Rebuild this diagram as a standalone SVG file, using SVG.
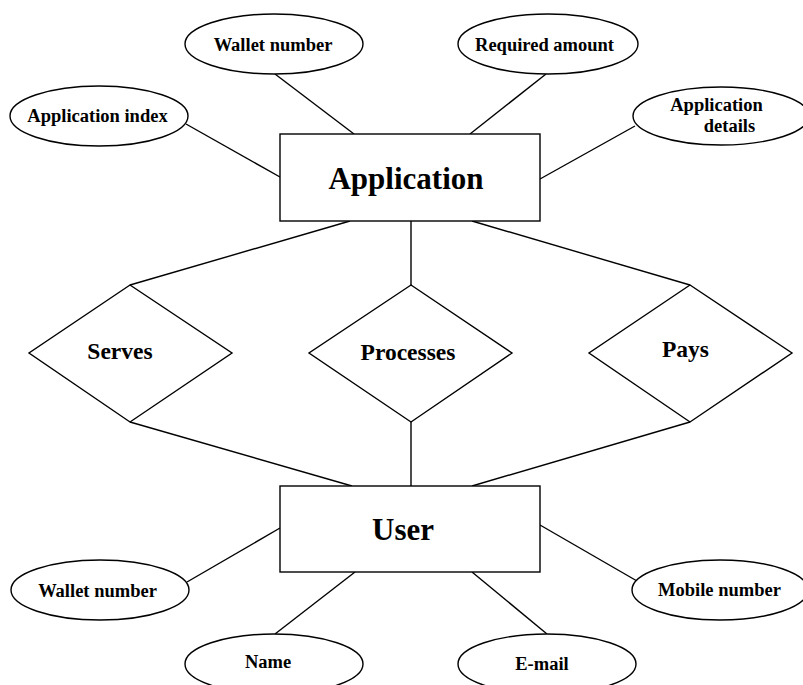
<svg xmlns="http://www.w3.org/2000/svg" width="803" height="685" viewBox="0 0 803 685">
<style>
.shape{fill:#fff;stroke:#000;stroke-width:1.4}
.conn line{stroke:#000;stroke-width:1.4}
text{font-family:"Liberation Serif","Times New Roman",serif;font-weight:bold;fill:#000;text-anchor:middle}
.attr{font-size:18.5px}
.rel{font-size:23.5px}
.ent{font-size:31px}
</style>
<rect width="803" height="685" fill="#fff"/>
<g class="conn" id="connectors">
<line x1="275" y1="74" x2="354" y2="134"/>
<line x1="186" y1="124" x2="280" y2="177"/>
<line x1="546" y1="74" x2="470" y2="134"/>
<line x1="635" y1="126" x2="540" y2="179"/>
<line x1="350" y1="221" x2="130" y2="285"/>
<line x1="411" y1="221" x2="411" y2="285"/>
<line x1="472" y1="221" x2="690" y2="285"/>
<line x1="130" y1="422" x2="352" y2="486"/>
<line x1="411" y1="422" x2="411" y2="486"/>
<line x1="690" y1="422" x2="472" y2="486"/>
<line x1="187" y1="582" x2="280" y2="528"/>
<line x1="275" y1="634" x2="355" y2="572"/>
<line x1="547" y1="634" x2="472" y2="572"/>
<line x1="540" y1="525" x2="637" y2="581"/>
</g>
<g id="application">
<rect class="shape" x="280" y="134" width="260" height="87"/>
<text class="ent" x="406" y="189">Application</text>
</g>
<g id="user">
<rect class="shape" x="280" y="486" width="260" height="86"/>
<text class="ent" x="403" y="540">User</text>
</g>
<g id="attr-wallet-top">
<ellipse class="shape" cx="274" cy="44" rx="89" ry="30"/>
<text class="attr" x="273" y="51">Wallet number</text>
</g>
<g id="attr-app-index">
<ellipse class="shape" cx="99" cy="116" rx="89" ry="30"/>
<text class="attr" x="97.5" y="122">Application index</text>
</g>
<g id="attr-required">
<ellipse class="shape" cx="548" cy="44" rx="90" ry="30"/>
<text class="attr" x="544.5" y="51">Required amount</text>
</g>
<g id="attr-app-details">
<ellipse class="shape" cx="721" cy="116" rx="88" ry="29"/>
<text class="attr" x="716.5" y="111">Application</text>
<text class="attr" x="729.5" y="132">details</text>
</g>
<g id="rel-serves">
<polygon class="shape" points="130,285 232,353 130,422 29,353"/>
<text class="rel" x="120" y="359">Serves</text>
</g>
<g id="rel-processes">
<polygon class="shape" points="411,285 512,353 411,422 309,353"/>
<text class="rel" x="408" y="360">Processes</text>
</g>
<g id="rel-pays">
<polygon class="shape" points="690,285 792,353 690,422 589,353"/>
<text class="rel" x="685.5" y="357">Pays</text>
</g>
<g id="attr-wallet-bottom">
<ellipse class="shape" cx="100" cy="590" rx="89" ry="30"/>
<text class="attr" x="97.5" y="597">Wallet number</text>
</g>
<g id="attr-name">
<ellipse class="shape" cx="274" cy="664" rx="89" ry="30"/>
<text class="attr" x="268" y="668">Name</text>
</g>
<g id="attr-email">
<ellipse class="shape" cx="547" cy="664" rx="89" ry="30"/>
<text class="attr" x="542" y="670">E-mail</text>
</g>
<g id="attr-mobile">
<ellipse class="shape" cx="720" cy="590" rx="88" ry="30"/>
<text class="attr" x="719.5" y="596">Mobile number</text>
</g>
</svg>
